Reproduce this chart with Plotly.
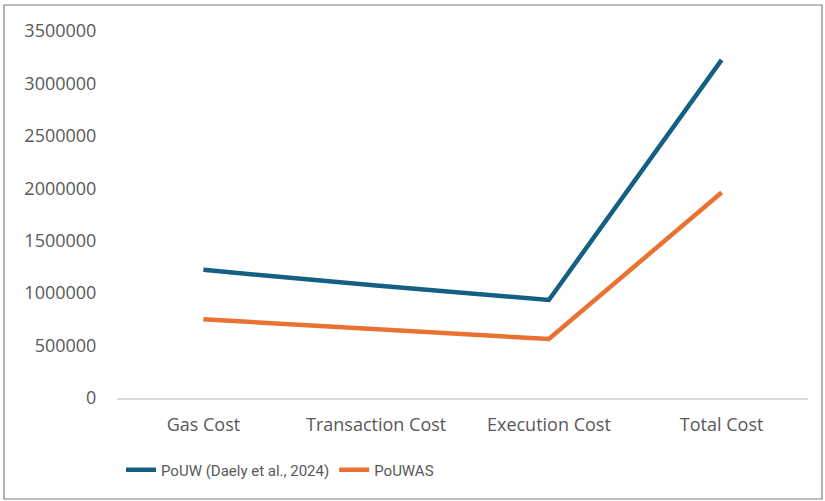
import plotly.graph_objects as go

categories = ["Gas Cost", "Transaction Cost", "Execution Cost", "Total Cost"]
pouw = [1222000, 1072000, 935000, 3225000]
pouwas = [750000, 655000, 563000, 1960000]
series_names = ["PoUW (Daely et al., 2024)", "PoUWAS"]
tick_vals = [0, 500000, 1000000, 1500000, 2000000, 2500000, 3000000, 3500000]

W, H = 825, 501
L, R, T, B = 117, 17, 31, 103
pw, ph = W - L - R, H - T - B

fig = go.Figure()
fig.add_trace(go.Scatter(x=categories, y=pouw, mode="lines", name=series_names[0],
                         line=dict(color="#156082", width=4.5)))
fig.add_trace(go.Scatter(x=categories, y=pouwas, mode="lines", name=series_names[1],
                         line=dict(color="#E97132", width=4.5)))

def px2paper_x(px):
    return (px - L) / pw

def px2paper_y(py):
    return (H - B - py) / ph

fig.add_shape(type="rect", xref="paper", yref="paper",
              x0=px2paper_x(4), x1=px2paper_x(822), y0=px2paper_y(499), y1=px2paper_y(5),
              line=dict(color="#7f7f7f", width=1.2), fillcolor="rgba(0,0,0,0)", layer="below")

tick_font = "Open Sans, Roboto, Arial"
fig.update_layout(
    width=W, height=H,
    margin=dict(l=L, r=R, t=T, b=B, pad=0),
    paper_bgcolor="white", plot_bgcolor="white",
    font=dict(family=tick_font, size=18, color="#595959"),
    xaxis=dict(type="category", range=[-0.5, len(categories) - 0.5],
               showgrid=False, showline=True, linecolor="#d9d9d9", linewidth=1.5,
               ticks="outside", ticklen=10, tickcolor="rgba(0,0,0,0)",
               tickfont=dict(family=tick_font, size=18, color="#595959"), zeroline=False),
    yaxis=dict(range=[0, 3500000], tickvals=tick_vals, ticktext=[str(v) for v in tick_vals],
               showgrid=False, zeroline=False, showline=False,
               ticks="outside", ticklen=16, tickcolor="rgba(0,0,0,0)",
               tickfont=dict(family=tick_font, size=18, color="#595959")),
    showlegend=True,
    legend=dict(orientation="h", x=px2paper_x(121), xanchor="left", y=px2paper_y(470), yanchor="middle",
                font=dict(family="Roboto, Arial", size=15, color="#595959"),
                itemwidth=30, bgcolor="rgba(0,0,0,0)"),
)

fig.write_html("out.html", config={"displayModeBar": False},
               post_script="document.body.style.margin='0';document.body.style.overflow='hidden';")
